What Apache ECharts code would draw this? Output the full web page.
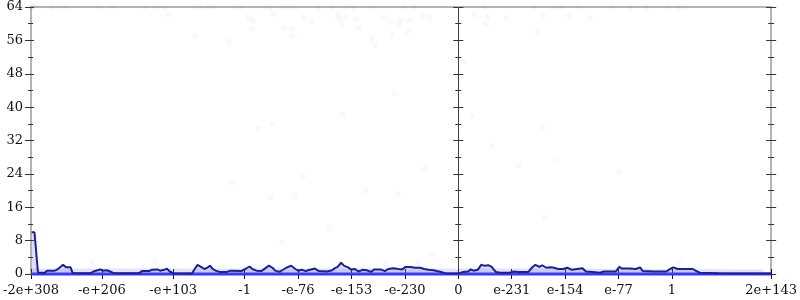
<!DOCTYPE html>
<html><head><meta charset="utf-8">
<script src="https://cdn.jsdelivr.net/npm/echarts@6/dist/echarts.min.js"></script>
<style>html,body{margin:0;padding:0;background:#fff}#c{width:800px;height:300px}</style>
</head><body><div id="c"></div>
<script>
// x axis: ordered float scale (exponent units), 0 at the middle axis
const tickPos = [-616, -514, -411, -308, -231, -154, -77, 0, 77, 154, 231, 308, 451];
const tickLabels = ['-2e+308', '-e+206', '-e+103', '-1', '-e-76', '-e-153', '-e-230', '0', 'e-231', 'e-154', 'e-77', '1', '2e+143'];
const yTicks = [0, 8, 16, 24, 32, 40, 48, 56, 64];

// smoothed histogram line
const lineX = [-615,-611,-609,-606,-596,-593,-582,-579,-575,-570,-568,-565,-559,-556,-530,-526,-520,-516,-513,-507,-502,-497,
  -460,-456,-446,-442,-434,-430,-424,-420,-416,-410,-384,-380,-376,-371,-366,-361,-358,-354,-350,-344,-334,-328,-313,-307,
  -301,-297,-291,-284,-278,-273,-268,-264,-258,-254,-248,-241,-235,-231,-225,-220,-214,-207,-201,-189,-182,-178,-174,-169,
  -165,-159,-155,-149,-144,-138,-132,-126,-121,-112,-106,-101,-94,-86,-81,-76,-69,-62,-55,-49,-43,-36,-31,-25,-19,-2,0,2,7,
  14,18,22,28,33,37,44,48,54,60,74,80,87,101,106,111,117,121,127,133,138,144,151,157,164,171,179,184,194,204,210,227,232,
  236,247,256,262,266,282,300,305,310,316,338,342,348,375,451];
const lineY = [10,10,10,0.3,0.3,0.8,0.8,1.0,1.5,2.2,2.0,1.6,1.6,0.2,0.2,0.6,0.9,1.1,0.8,0.9,0.6,0.2,
  0.2,0.7,0.7,1.0,1.1,0.8,1.0,1.3,0.6,0.1,0.1,1.2,2.2,1.7,1.2,1.6,2.0,1.2,0.8,0.5,0.5,0.8,0.7,1.2,
  1.8,1.2,0.8,0.7,1.4,2.0,1.5,0.8,0.5,0.9,1.5,2.0,1.2,0.8,1.0,0.7,1.0,1.3,0.7,0.6,0.9,1.4,1.7,2.7,
  2.0,1.6,1.1,1.2,0.6,1.0,0.9,0.5,1.1,1.1,0.7,1.2,1.4,1.2,1.1,1.7,1.7,1.5,1.5,1.2,1.0,0.9,0.7,0.5,0.2,0.1,0.1,0.2,0.5,
  0.6,1.1,0.8,1.0,2.2,2.0,2.1,1.7,0.5,0.3,0.3,0.6,0.5,0.5,1.5,2.2,1.7,2.1,1.5,1.6,1.5,1.2,1.2,1.5,1.0,1.2,1.4,0.6,0.5,0.3,0.6,0.6,1.7,
  1.3,1.3,1.2,1.6,0.7,0.6,0.6,1.2,1.6,1.2,1.2,0.8,0.3,0.2,0.1];

// faint individual samples
const ptX = [-614,-614,-614,-586,-573,-565,-518,-499,-452,-437,-423,-380,-371,-360,-353,-322,-314,-279,-271,-254,-245,-235,-201,-182,-162,-152,-123,-79,-64,
  38,110,138,150,174,222,248,272,303,318,325,
  -418,-379,-331,-302,-296,-298,-267,-252,-239,-239,-223,-212,-173,-172,-168,-163,-147,-143,-125,-120,-107,-98,-95,-86,-92,-166,-288,-268,
  -83,-71,-73,-52,-42,24,42,39,70,123,159,190,114,8,19,121,48,
  -326,-270,-236,-224,-186,-254,-134,-87,-49,-37,-57,-137,-105,87,142,231,125,318,-528,-437];
const ptY = [64,64,64,64,64,64,64,64,64,64,64,64,64,64,64,64,64,64,64,64,64,64,64,64,64,64,64,64,64,
  64,64,64,64,64,64,64,64,64,64,64,
  62.1,56.9,55.9,61.5,60.7,58.7,62.3,59,58.7,57.1,61.3,60.5,62,61.1,60,61.6,61.1,59,56.3,54.8,61.6,60.3,57.3,60,43.3,38.1,34.9,36.1,
  60.9,60.7,58.1,61.9,61.6,62,61.6,59.9,61.3,62,61.9,61.5,58.1,50.9,37.9,35.1,30.8,
  21.9,18.4,18.9,23.3,11.2,7.5,20,19.2,25.3,4.6,2.7,1.9,2.3,26.1,27.3,24.3,13.6,2.7,2.6,2.6];

// dense band of samples near the bottom, and samples at exactly zero
const bandX = [-616, -411, -154, 0, 154, 308, 440];
const bandY = [1.3, 1.3, 1.3, 1.3, 1.3, 1.2, 1.1];
const zeroX = [-616, 451];
const zeroY = [0, 0];

const FONT = 'DejaVu Serif';
const TICK = '#333';
const labelOf = v => { const i = tickPos.indexOf(v); return i >= 0 ? tickLabels[i] : ''; };
const zip = (xs, ys) => xs.map((x, i) => [x, ys[i]]);

function yAx(o) {
  return Object.assign({
    type: 'value', min: 0, max: 64, interval: 8, splitLine: {show: false},
    axisLabel: {show: false},
    axisLine: {show: false, onZero: false},
    axisTick: {show: true, length: 5, lineStyle: {color: TICK}},
    minorTick: {show: true, splitNumber: 2, length: 3, lineStyle: {color: TICK}}
  }, o);
}
function xAx(o) {
  return Object.assign({
    type: 'value', min: -616, max: 451, splitLine: {show: false},
    axisLabel: {show: false},
    axisLine: {show: false, onZero: false},
    axisTick: {show: false}
  }, o);
}

const chart = echarts.init(document.getElementById('c'), null, {renderer: 'canvas'});
chart.setOption({
  animation: false,
  grid: {left: 29, right: 27, top: 7, bottom: 26, containLabel: false},
  xAxis: [
    xAx({position: 'bottom',
      axisLine: {show: true, onZero: false, lineStyle: {color: '#555', width: 1}},
      axisTick: {show: true, length: 5, customValues: tickPos, lineStyle: {color: '#111'}},
      axisLabel: {show: true, customValues: tickPos, formatter: labelOf, margin: 10,
        fontFamily: FONT, fontSize: 13, color: '#111'}}),
    xAx({position: 'bottom',
      axisTick: {show: true, inside: true, length: 5, customValues: tickPos, lineStyle: {color: '#111'}}}),
    xAx({position: 'top', axisLine: {show: true, onZero: false, lineStyle: {color: '#b4b4b4', width: 2}}})
  ],
  yAxis: [
    yAx({position: 'left',
      axisLine: {show: true, onZero: false, lineStyle: {color: '#b4b4b4', width: 2}},
      axisTick: {show: true, length: 6, lineStyle: {color: TICK}},
      axisLabel: {show: true, margin: 8, fontFamily: FONT, fontSize: 13, color: '#111',
        customValues: yTicks}}),
    yAx({position: 'left', axisTick: {show: true, inside: true, length: 3, lineStyle: {color: TICK}},
      minorTick: {show: true, splitNumber: 2, length: 2, lineStyle: {color: TICK}}}),
    yAx({position: 'left',
      axisLine: {show: true, onZero: true, onZeroAxisIndex: 0, lineStyle: {color: '#444', width: 1}}}),
    yAx({position: 'left',
      axisLine: {show: false, onZero: true, onZeroAxisIndex: 0},
      axisTick: {show: true, inside: true, length: 5, lineStyle: {color: TICK}}}),
    yAx({position: 'right',
      axisLine: {show: true, onZero: false, lineStyle: {color: '#b4b4b4', width: 2}}}),
    yAx({position: 'right',
      axisTick: {show: true, inside: true, length: 5, lineStyle: {color: TICK}}})
  ],
  series: [
    {name: 'band', type: 'line', data: zip(bandX, bandY), symbol: 'none', z: 1,
      lineStyle: {width: 0}, areaStyle: {color: 'rgba(110,110,240,0.28)'}},
    {name: 'samples', type: 'scatter', data: zip(ptX, ptY), symbolSize: 6, z: 2,
      itemStyle: {color: 'rgba(70,70,235,0.05)'}},
    {name: 'zero', type: 'line', data: zip(zeroX, zeroY), symbol: 'none', z: 3, clip: false,
      lineStyle: {color: '#3838f0', width: 3}},
    {name: 'histogram', type: 'line', data: zip(lineX, lineY), symbol: 'none', z: 4, clip: false,
      lineStyle: {color: '#20208c', width: 2}, areaStyle: {color: 'rgba(90,90,235,0.28)'}}
  ]
});
</script>
</body></html>
